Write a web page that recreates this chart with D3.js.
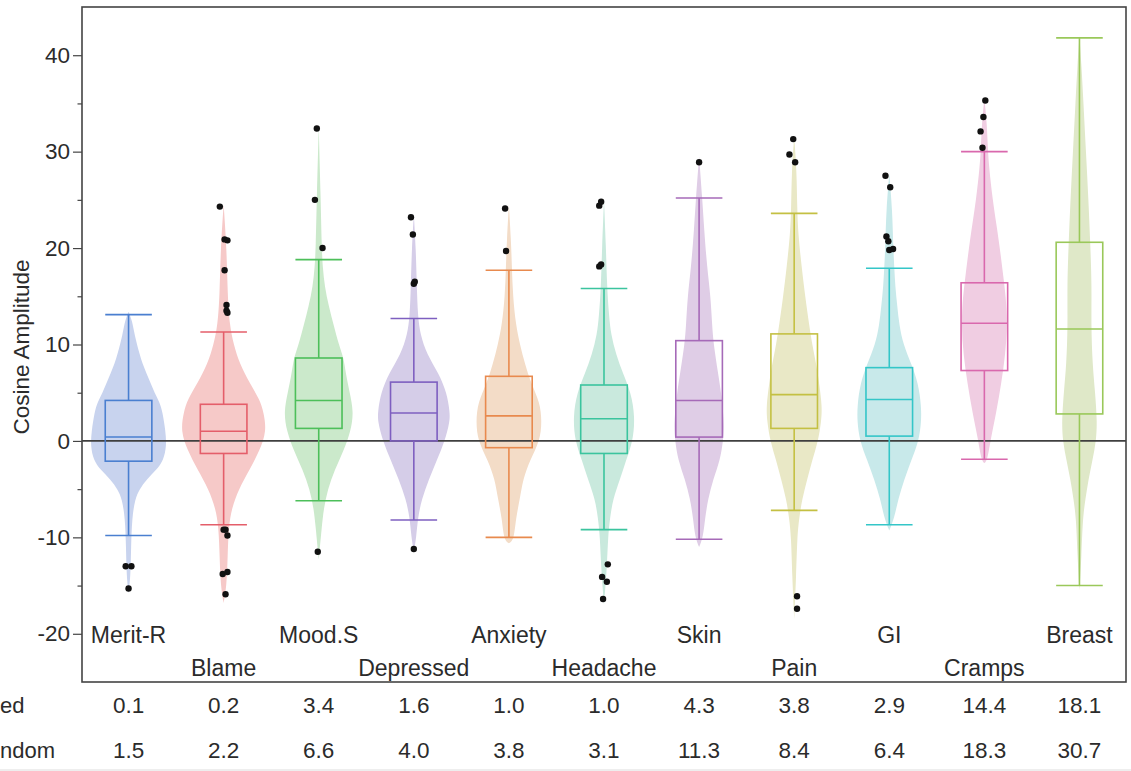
<!DOCTYPE html>
<html>
<head>
<meta charset="utf-8">
<script src="https://cdn.jsdelivr.net/npm/d3@7"></script>
<style>
  body { margin: 0; background: #fff; }
  text { font-family: "Liberation Sans", Arial, sans-serif; fill: #2b2b2b; }
</style>
</head>
<body>
<div id="chart"></div>
<script>
// setting up constants
const FRAME_WIDTH = 1131;
const FRAME_HEIGHT = 771;
const PLOT = {left: 82, right: 1126, top: 7, bottom: 682};

// categories and table values
const categories = ["Merit-R", "Blame", "Mood.S", "Depressed", "Anxiety", "Headache",
                    "Skin", "Pain", "GI", "Cramps", "Breast"];
const fixedVals  = ["0.1", "0.2", "3.4", "1.6", "1.0", "1.0", "4.3", "3.8", "2.9", "14.4", "18.1"];
const randomVals = ["1.5", "2.2", "6.6", "4.0", "3.8", "3.1", "11.3", "8.4", "6.4", "18.3", "30.7"];
// row labels as they are visible at the left edge of the picture
const rowLabels = ["ed", "ndom"];

// box plot summaries
const q1          = [-2.1, -1.3, 1.3, 0.0, -0.7, -1.3, 0.4, 1.3, 0.5, 7.3, 2.8];
const medians     = [0.4, 1.0, 4.2, 2.9, 2.6, 2.3, 4.2, 4.8, 4.3, 12.2, 11.6];
const q3          = [4.2, 3.8, 8.6, 6.1, 6.7, 5.8, 10.4, 11.1, 7.6, 16.4, 20.6];
const whiskerLow  = [-9.8, -8.7, -6.2, -8.2, -10.0, -9.2, -10.2, -7.2, -8.7, -1.9, -15.0];
const whiskerHigh = [13.1, 11.3, 18.8, 12.7, 17.7, 15.8, 25.2, 23.6, 17.9, 30.0, 41.8];

// outliers: [value, horizontal jitter as fraction of band]
const outliers = [
    [[-13.0, -0.03], [-13.0, 0.03], [-15.3, 0]],
    [[24.3, -0.04], [20.9, 0.01], [20.8, 0.04], [17.7, 0.01], [14.1, 0.03], [13.5, 0.03], [13.3, 0.04],
     [-9.2, 0], [-9.2, 0.02], [-9.8, 0.04], [-13.8, -0.01], [-13.6, 0.04], [-15.9, 0.02]],
    [[32.4, -0.02], [25.0, -0.04], [20.0, 0.04], [-11.5, -0.01]],
    [[23.2, -0.03], [21.4, -0.01], [16.3, 0], [16.5, 0.01], [-11.2, 0]],
    [[24.1, -0.04], [19.7, -0.03]],
    [[24.4, -0.05], [24.8, -0.03], [18.1, -0.05], [18.3, -0.03],
     [-12.8, 0.04], [-14.1, -0.02], [-14.6, 0.03], [-16.4, -0.01]],
    [[28.9, 0]],
    [[31.3, -0.01], [29.7, -0.05], [28.9, 0.01], [-16.1, 0.03], [-17.4, 0.03]],
    [[27.5, -0.04], [26.3, 0.01], [21.2, -0.03], [20.7, -0.01], [19.8, 0], [19.9, 0.04]],
    [[35.3, 0.01], [33.6, -0.01], [32.1, -0.04], [30.4, -0.02]],
    []
];

// violin density profiles: [value, relative density]
const violins = [
    [[-15.8, 0], [-14, .02], [-11, .025], [-8, .035], [-6, .065], [-5, .11], [-4, .18], [-3, .28], [-2, .35],
     [-0.5, .38], [1, .37], [3, .34], [4, .31], [5, .26], [6, .22], [7, .18], [8, .14], [9, .11], [11, .06],
     [12.5, .035], [13.4, 0]],
    [[-16.8, 0], [-15, .03], [-12, .04], [-9, .05], [-7, .08], [-5, .15], [-3, .26], [-1, .36], [1, .43],
     [3, .40], [4.3, .36], [6, .26], [8, .16], [10, .10], [12, .06], [15, .04], [20, .03], [24.5, 0]],
    [[-12.3, 0], [-9, .03], [-7, .05], [-5, .09], [-3, .16], [-1, .25], [1, .32], [3, .35], [5, .31],
     [7, .27], [8.6, .25], [10, .20], [12, .15], [14, .10], [16, .06], [18, .04], [20, .03], [25, .02], [32.5, 0]],
    [[-11.5, 0], [-10, .025], [-8, .04], [-6, .08], [-4, .15], [-2, .23], [0, .31], [2, .36], [3, .36],
     [5, .33], [7, .25], [9, .13], [11, .065], [13, .04], [16, .03], [20, .02], [23.5, 0]],
    [[-10.6, 0], [-10.3, .05], [-8, .07], [-6, .11], [-4, .14], [-2, .21], [0, .31], [2, .33], [4, .31],
     [6, .22], [8, .16], [10, .11], [12, .07], [15, .04], [18, .03], [21, .02], [24.5, 0]],
    [[-17, 0], [-13, .03], [-10, .04], [-8, .06], [-6, .09], [-4, .16], [-2, .22], [0, .29], [2.5, .31],
     [5, .27], [7, .19], [9, .12], [11, .07], [13, .05], [16, .03], [20, .02], [25, 0]],
    [[-11, 0], [-10, .04], [-8, .06], [-6, .09], [-4, .14], [-2, .21], [0, .24], [1.5, .25], [3, .24],
     [5, .22], [7, .19], [10, .145], [12, .13], [15, .115], [18, .08], [22, .05], [25, .033], [29.5, 0]],
    [[-18.5, 0], [-14, .02], [-10, .03], [-8, .05], [-6, .08], [-4, .13], [-2, .18], [0, .24], [2, .27],
     [3.5, .28], [6, .25], [8, .22], [10, .18], [12, .15], [15, .11], [18, .075], [21.5, .04], [24, .03],
     [28, .025], [31.5, 0]],
    [[-9.3, 0], [-8, .05], [-6, .09], [-4, .15], [-2, .22], [0, .296], [2, .32], [3.6, .32], [6, .29],
     [8, .22], [10, .14], [12, .10], [14, .08], [16, .06], [18, .05], [20, .04], [24, .03], [27.7, 0]],
    [[-2.3, 0], [-2, .03], [0, .06], [3, .12], [6, .17], [9, .21], [12, .23], [15, .215], [17, .19],
     [20, .155], [22.5, .12], [25, .083], [28.4, .047], [30.2, .035], [33, .025], [35.5, 0]],
    [[-15.5, 0], [-12, .02], [-8, .033], [-6, .06], [-4, .09], [-2, .13], [0, .167], [2, .177], [5, .157],
     [8, .13], [12, .117], [16, .123], [20, .11], [25, .09], [30, .065], [35, .04], [39, .02], [42, 0]]
];

// colours per category
const strokeColors = ["#4a7fd0", "#e45e6a", "#4dbf5a", "#7e5fc0", "#e88a4e", "#3bc49e",
                      "#a66ab8", "#c4c043", "#34c6c8", "#d968ad", "#9ac85a"];
const fillColors   = ["#c8d3ee", "#f6c9c8", "#cbe9cb", "#d5cde8", "#f3dcc7", "#c9e9dd",
                      "#dfcde6", "#e9e8c6", "#c8e9ea", "#f0cde2", "#dfe8c8"];

const majorTicks = [-20, -10, 0, 10, 20, 30, 40];
const minorTicks = [-15, -5, 5, 15, 25, 35];

// make frame
const svg = d3.select("#chart")
    .append("svg")
        .attr("width", FRAME_WIDTH)
        .attr("height", FRAME_HEIGHT);

// scales
const yScale = d3.scaleLinear()
    .domain([-25, 45])
    .range([PLOT.bottom, PLOT.top]);

const xScale = d3.scaleBand()
    .domain(categories)
    .range([81, 1127]);

const wScale = d3.scaleLinear()
    .domain([0, 1])
    .range([0, 100]);

const boxW = xScale.bandwidth() * 0.49;
const cx = (c) => xScale(c) + xScale.bandwidth() / 2;

// violins
categories.forEach(function (c, i) {
    const area = d3.area()
        .curve(d3.curveBasis)
        .y(d => yScale(d[0]))
        .x0(d => cx(c) - wScale(d[1]))
        .x1(d => cx(c) + wScale(d[1]));
    svg.append("path")
        .datum(violins[i])
        .attr("d", area)
        .attr("fill", fillColors[i])
        .attr("stroke", "none");
});

// zero line
svg.append("line")
    .attr("x1", PLOT.left).attr("x2", PLOT.right)
    .attr("y1", yScale(0)).attr("y2", yScale(0))
    .attr("stroke", "#3f3f3f")
    .attr("stroke-width", 1.8);

// boxes and whiskers
const boxes = svg.append("g").selectAll("g")
    .data(categories)
    .enter()
    .append("g")
    .attr("stroke", (d, i) => strokeColors[i])
    .attr("stroke-width", 1.6)
    .attr("fill", "none");

boxes.append("rect")
    .attr("x", d => cx(d) - boxW / 2)
    .attr("y", (d, i) => yScale(q3[i]))
    .attr("width", boxW)
    .attr("height", (d, i) => yScale(q1[i]) - yScale(q3[i]));

boxes.append("line")
    .attr("x1", d => cx(d) - boxW / 2).attr("x2", d => cx(d) + boxW / 2)
    .attr("y1", (d, i) => yScale(medians[i])).attr("y2", (d, i) => yScale(medians[i]));

// upper whisker and cap
boxes.append("line")
    .attr("x1", d => cx(d)).attr("x2", d => cx(d))
    .attr("y1", (d, i) => yScale(q3[i])).attr("y2", (d, i) => yScale(whiskerHigh[i]));
boxes.append("line")
    .attr("x1", d => cx(d) - boxW / 2).attr("x2", d => cx(d) + boxW / 2)
    .attr("y1", (d, i) => yScale(whiskerHigh[i])).attr("y2", (d, i) => yScale(whiskerHigh[i]));

// lower whisker and cap
boxes.append("line")
    .attr("x1", d => cx(d)).attr("x2", d => cx(d))
    .attr("y1", (d, i) => yScale(q1[i])).attr("y2", (d, i) => yScale(whiskerLow[i]));
boxes.append("line")
    .attr("x1", d => cx(d) - boxW / 2).attr("x2", d => cx(d) + boxW / 2)
    .attr("y1", (d, i) => yScale(whiskerLow[i])).attr("y2", (d, i) => yScale(whiskerLow[i]));

// outlier points
categories.forEach(function (c, i) {
    svg.append("g").selectAll("circle")
        .data(outliers[i])
        .enter()
        .append("circle")
        .attr("cx", d => cx(c) + d[1] * xScale.bandwidth())
        .attr("cy", d => yScale(d[0]))
        .attr("r", 3.2)
        .attr("fill", "#111");
});

// frame border
svg.append("rect")
    .attr("x", PLOT.left).attr("y", PLOT.top)
    .attr("width", PLOT.right - PLOT.left)
    .attr("height", PLOT.bottom - PLOT.top)
    .attr("fill", "none")
    .attr("stroke", "#444")
    .attr("stroke-width", 1.6);

// y axis, major and minor ticks (hyphen minus like the original)
const yAxis = svg.append("g")
    .attr("transform", "translate(" + PLOT.left + ",0)")
    .call(d3.axisLeft(yScale).tickValues(majorTicks).tickSize(9).tickPadding(3)
        .tickFormat(d => String(d)));
yAxis.select(".domain").remove();
yAxis.selectAll("line").attr("stroke", "#444").attr("stroke-width", 1.2);
yAxis.selectAll("text")
    .attr("font-size", 22.5)
    .attr("font-family", "Liberation Sans, Arial, sans-serif")
    .attr("fill", "#2b2b2b");

const yMinor = svg.append("g")
    .attr("transform", "translate(" + PLOT.left + ",0)")
    .call(d3.axisLeft(yScale).tickValues(minorTicks).tickSize(4.5).tickFormat(""));
yMinor.select(".domain").remove();
yMinor.selectAll("line").attr("stroke", "#444").attr("stroke-width", 1.2);

// y axis title
svg.append("text")
    .attr("transform", "translate(29," + 347 + ") rotate(-90)")
    .attr("text-anchor", "middle")
    .attr("font-size", 22.5)
    .text("Cosine Amplitude");

// category labels, staggered in two rows
svg.append("g").selectAll("text")
    .data(categories)
    .enter()
    .append("text")
    .attr("x", d => cx(d))
    .attr("y", (d, i) => i % 2 === 0 ? 643 : 676)
    .attr("text-anchor", "middle")
    .attr("font-size", 23)
    .text(d => d);

// table rows below the plot
[fixedVals, randomVals].forEach(function (row, r) {
    const yy = r === 0 ? 713 : 758;
    svg.append("text")
        .attr("x", 0)
        .attr("y", yy)
        .attr("font-size", 22)
        .text(rowLabels[r]);
    svg.append("g").selectAll("text")
        .data(row)
        .enter()
        .append("text")
        .attr("x", (d, i) => cx(categories[i]))
        .attr("y", yy)
        .attr("text-anchor", "middle")
        .attr("font-size", 22.5)
        .text(d => d);
});

// thin rule at the bottom
svg.append("line")
    .attr("x1", 0).attr("x2", FRAME_WIDTH)
    .attr("y1", 770).attr("y2", 770)
    .attr("stroke", "#ddd")
    .attr("stroke-width", 1);
</script>
</body>
</html>
